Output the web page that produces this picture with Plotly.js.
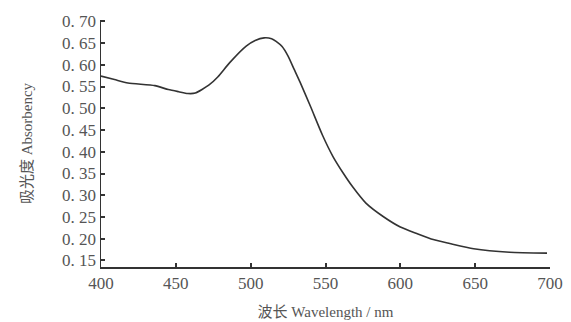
<!DOCTYPE html>
<html>
<head>
<meta charset="utf-8">
<script src="https://cdn.plot.ly/plotly-3.0.1.min.js"></script>
<style>html,body{margin:0;padding:0;background:#fff;}#chart{width:571px;height:322px;}</style>
</head>
<body>
<div id="chart"></div>
<script>
const wavelength = [400, 409, 418, 436, 445, 452, 458, 463, 472, 478, 486, 497, 503, 509, 514, 517, 521, 525, 529, 533, 540, 548, 555, 562, 568, 577, 589, 600, 611, 622, 633, 649, 673, 698];
const absorbance = [0.574, 0.566, 0.558, 0.552, 0.543, 0.538, 0.534, 0.535, 0.553, 0.572, 0.605, 0.643, 0.656, 0.662, 0.660, 0.654, 0.642, 0.620, 0.590, 0.560, 0.504, 0.438, 0.389, 0.350, 0.320, 0.282, 0.250, 0.227, 0.212, 0.198, 0.189, 0.177, 0.169, 0.167];
const yTicks = [0.15, 0.20, 0.25, 0.30, 0.35, 0.40, 0.45, 0.50, 0.55, 0.60, 0.65, 0.70];
const yTickText = ["0. 15", "0. 20", "0. 25", "0. 30", "0. 35", "0. 40", "0. 45", "0. 50", "0. 55", "0. 60", "0. 65", "0. 70"];
const xTicks = [400, 450, 500, 550, 600, 650, 700];

const serif = '"Liberation Serif", "DejaVu Serif", "Noto Sans CJK SC", serif';
const trace = {
  x: wavelength, y: absorbance, type: 'scatter', mode: 'lines',
  line: {color: '#333333', width: 1.6, shape: 'spline', smoothing: 0.6},
  hoverinfo: 'skip'
};
const layout = {
  width: 571, height: 322,
  margin: {l: 101, r: 21, t: 20, b: 55},
  paper_bgcolor: '#ffffff', plot_bgcolor: '#ffffff',
  showlegend: false,
  font: {family: serif, color: '#555555', size: 16},
  xaxis: {
    range: [400, 700], tickvals: xTicks, ticks: 'inside', ticklen: 4, tickwidth: 2, tickcolor: '#333',
    showline: true, linecolor: '#333', linewidth: 1.5, showgrid: false, zeroline: false,
    tickfont: {family: serif, size: 17, color: '#555'},
    title: {text: '波长 Wavelength / nm', font: {family: serif, size: 15, color: '#555'}, standoff: 14}
  },
  yaxis: {
    range: [0.135, 0.703], tickvals: yTicks, ticktext: yTickText, ticks: 'inside', ticklen: 4, tickwidth: 2, tickcolor: '#333',
    showline: true, linecolor: '#333', linewidth: 1.5, showgrid: false, zeroline: false,
    tickfont: {family: serif, size: 17, color: '#555'},
    title: {text: '吸光度 Absorbency', font: {family: serif, size: 15, color: '#555'}, standoff: 26}
  }
};
Plotly.newPlot('chart', [trace], layout, {displayModeBar: false, staticPlot: true});
</script>
</body>
</html>
